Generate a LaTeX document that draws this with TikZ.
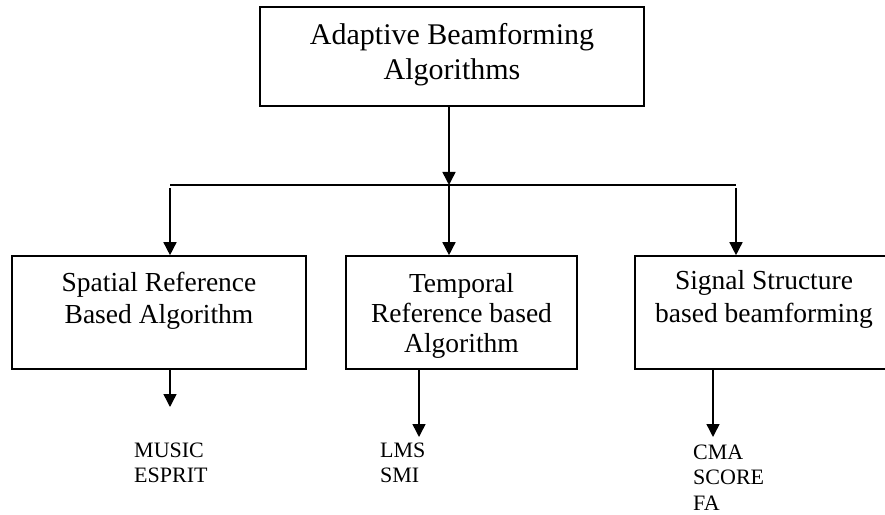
\documentclass[tikz,border=0pt]{standalone}
\usepackage{fontspec}
\setmainfont{Liberation Serif}
\usetikzlibrary{arrows.meta}

\tikzset{
  box/.style={draw, line width=1.6pt, inner xsep=0pt, inner ysep=0pt, anchor=base},
  flow/.style={line width=1.5pt},
  arr/.style={flow, -{Triangle[width=13pt,length=13pt]}},
  item/.style={anchor=base west, inner sep=0pt, font=\fontsize{22}{25.5}\selectfont}
}

\begin{document}
\begin{tikzpicture}[x=1pt,y=1pt]
\useasboundingbox (0,0) rectangle (885,514);

% boxes: anchored on the baseline of their first line
\node[box, minimum width=384pt, text height=38pt, text depth=61pt,
      font=\fontsize{30}{35}\selectfont] (top) at (452,469)
  {\begin{tabular}[t]{@{}c@{}}Adaptive Beamforming\\Algorithms\end{tabular}};

\node[box, minimum width=294pt, text height=36pt, text depth=77pt,
      font=\fontsize{27.5}{32}\selectfont] (spatial) at (159,222)
  {\begin{tabular}[t]{@{}c@{}}Spatial Reference\\Based Algorithm\end{tabular}};

\node[box, minimum width=231pt, text height=37pt, text depth=76pt,
      font=\fontsize{27.5}{30}\selectfont] (temporal) at (461.5,221)
  {\begin{tabular}[t]{@{}c@{}}Temporal\\Reference based\\Algorithm\end{tabular}};

\node[box, minimum width=258pt, text height=34pt, text depth=79pt,
      font=\fontsize{27.5}{33}\selectfont] (signal) at (764,224)
  {\begin{tabular}[t]{@{}c@{}}Signal Structure\\based beamforming\end{tabular}};

% algorithm lists
\node[item] (spatiallist) at (134,57)
  {\begin{tabular}[t]{@{}l@{}}MUSIC\\ESPRIT\end{tabular}};
\node[item] (temporallist) at (380,57)
  {\begin{tabular}[t]{@{}l@{}}LMS\\SMI\end{tabular}};
\node[item] (signallist) at (693,55)
  {\begin{tabular}[t]{@{}l@{}}CMA\\SCORE\\FA\end{tabular}};

% distribution bus
\coordinate (busL) at (170,329);
\coordinate (busM) at (449,329);
\coordinate (busR) at (736,329);
\coordinate (dropL) at (170,326);
\coordinate (dropR) at (736,326);

\draw[arr] (top.south -| busM) -- (busM);
\draw[flow] (busL) -- (busR);
\draw[arr] (dropL) -- (spatial.north -| dropL);
\draw[arr] (busM) -- (temporal.north -| busM);
\draw[arr] (dropR) -- (signal.north -| dropR);

% arrows towards the lists
\coordinate (endL) at (170,107);
\coordinate (endM) at (419,77);
\coordinate (endR) at (713,77);
\draw[arr] (spatial.south -| endL) -- (endL);
\draw[arr] (temporal.south -| endM) -- (endM);
\draw[arr] (signal.south -| endR) -- (endR);
\end{tikzpicture}
\end{document}
